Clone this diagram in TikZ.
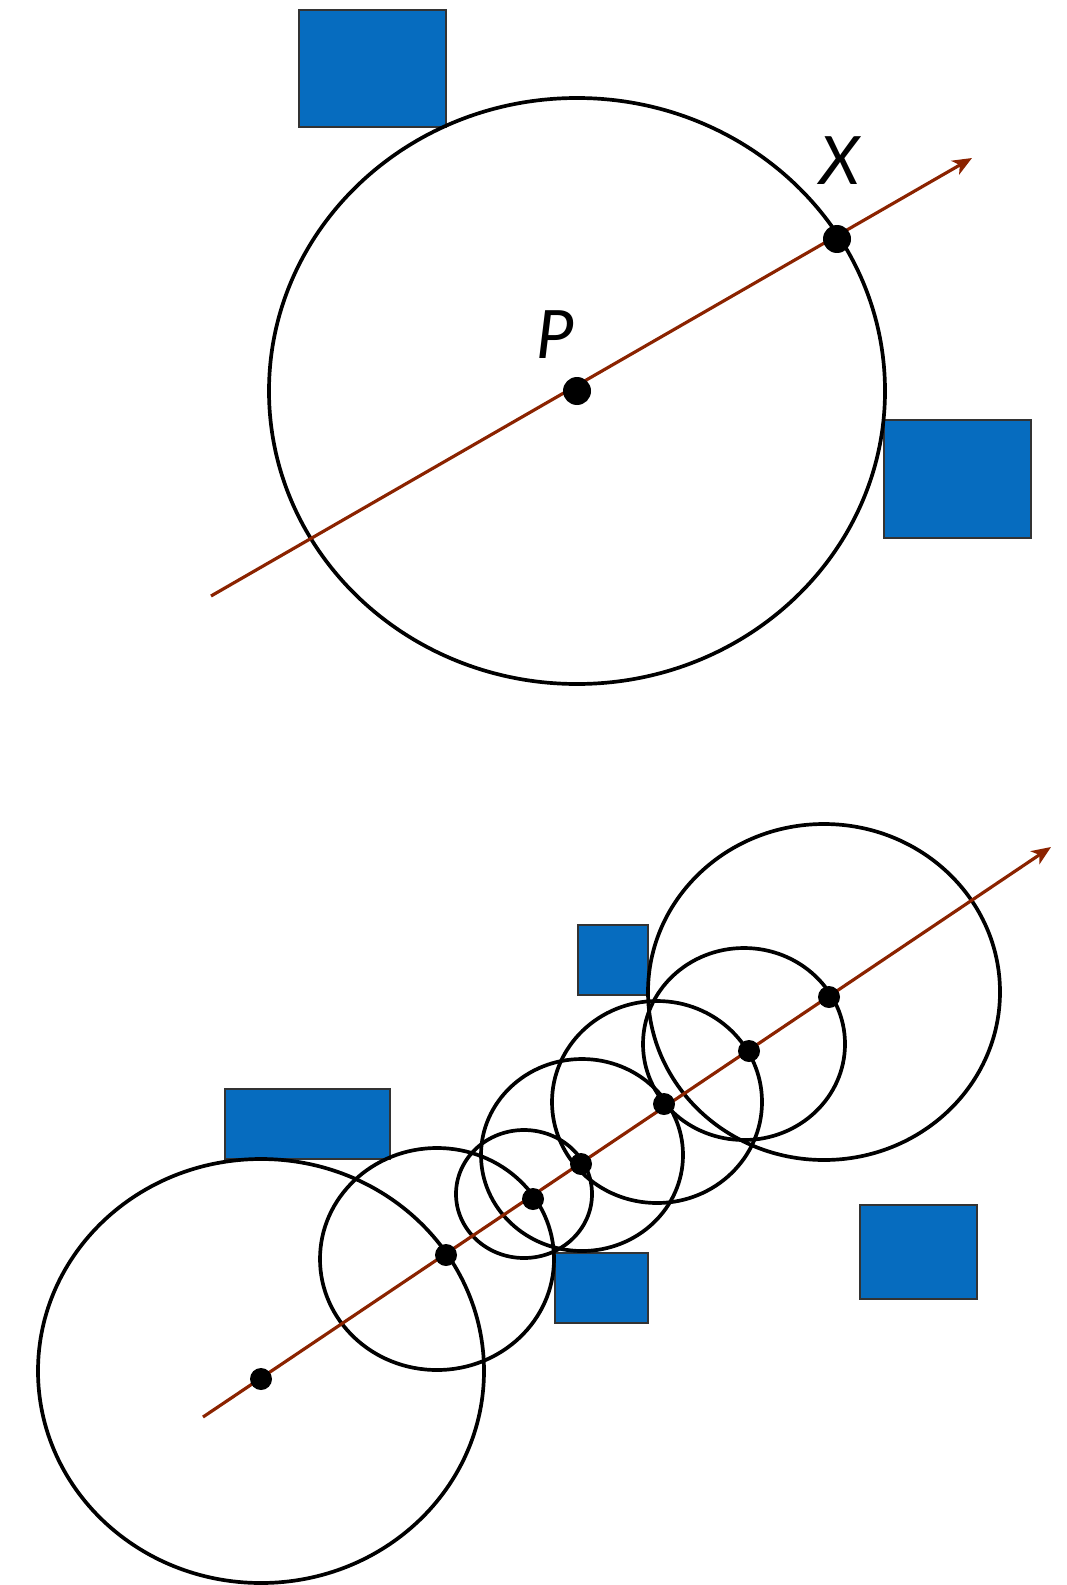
\documentclass[tikz,border=0pt]{standalone}
\usepackage{fontspec}
\setsansfont{Lato}
\usetikzlibrary{arrows.meta}
\definecolor{boxblue}{RGB}{6,108,191}
\definecolor{rayred}{RGB}{139,35,0}

\begin{document}
\begin{tikzpicture}[
  x=0.02cm, y=-0.02cm,
  blk/.style={fill=boxblue, draw=black!80, line width=0.7pt},
  ring/.style={draw=black, line width=2.1pt},
  ray/.style={draw=rayred, line width=1.8pt, -{Stealth[length=11pt, width=9pt, inset=3pt]}},
  bigdot/.style={circle, fill=black, inner sep=0pt, minimum size=0.56cm},
  dot/.style={circle, fill=black, inner sep=0pt, minimum size=0.44cm},
  lbl/.style={font=\sffamily\itshape\fontsize{38}{40}\selectfont, inner sep=0pt},
]
\useasboundingbox (0,0) rectangle (1067,1585);

% upper figure
\filldraw[blk] (299,10) rectangle (446,127);
\filldraw[blk] (884,420) rectangle (1031,538);
\draw[ring] (577,391) ellipse [x radius=308, y radius=293];

\coordinate (r1s) at (211,596);
\coordinate (r1e) at (972,158);
\draw[ray] (r1s) -- (r1e);

\node[bigdot] (p) at (577,391) {};
\node[bigdot] (x) at (837,239) {};
\node[lbl] (plbl) at (555,335) {P};
\node[lbl] (xlbl) at (840,161) {X};

% lower figure
\filldraw[blk] (578,925) rectangle (648,995);
\filldraw[blk] (225,1089) rectangle (390,1159);
\filldraw[blk] (555,1253) rectangle (648,1323);
\filldraw[blk] (860,1205) rectangle (977,1299);

\draw[ring] (261,1371) ellipse [x radius=223, y radius=212];
\draw[ring] (437,1259) ellipse [x radius=117, y radius=111];
\draw[ring] (524,1194) ellipse [x radius=68, y radius=64];
\draw[ring] (582,1155) ellipse [x radius=101, y radius=96];
\draw[ring] (657,1102) ellipse [x radius=105, y radius=101];
\draw[ring] (744,1044) ellipse [x radius=101, y radius=96];
\draw[ring] (824,992) ellipse [x radius=176, y radius=168];

\coordinate (r2s) at (203,1417);
\coordinate (r2e) at (1051,847);
\draw[ray] (r2s) -- (r2e);

\foreach \px/\py [count=\i] in {261/1379, 446/1255, 533/1199, 581/1164, 664/1104, 749/1051, 829/997}
  \node[dot] (s\i) at (\px,\py) {};
\end{tikzpicture}
\end{document}
